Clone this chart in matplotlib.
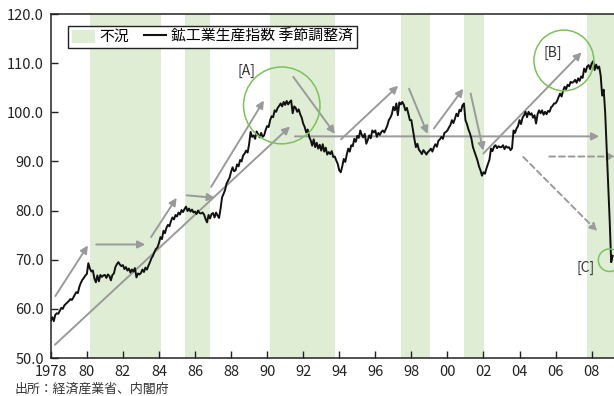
import matplotlib
matplotlib.use("Agg")
import matplotlib.pyplot as plt
import matplotlib.patches as mpatches
from matplotlib.lines import Line2D
import numpy as np

plt.rcParams['font.family'] = ['Noto Sans CJK JP', 'DejaVu Sans']

# 鉱工業生産指数（季節調整済）月次 1978年1月〜2009年3月
iip_1978_84 = [
    57.6, 58.3, 57.5, 58.8, 59.1, 59.0, 59.6, 60.2, 60.0, 60.7, 61.0, 61.3,  # 1978
    61.6, 62.0, 61.8, 62.3, 62.9, 63.4, 63.2, 64.5, 65.3, 65.9, 66.3, 66.8,  # 1979
    67.1, 69.3, 68.2, 67.6, 67.8, 66.2, 65.4, 66.8, 65.6, 66.9, 66.5, 66.8,  # 1980
    66.9, 66.3, 67.0, 66.7, 65.8, 66.9, 67.2, 68.5, 69.1, 69.5, 69.0, 68.7,  # 1981
    68.9, 68.1, 68.5, 67.8, 68.2, 67.4, 68.0, 67.6, 68.3, 66.4, 67.2, 67.0,  # 1982
    67.3, 68.0, 67.5, 68.4, 68.0, 68.8, 69.5, 70.3, 70.8, 71.6, 72.2, 72.5,  # 1983
    73.4, 74.6, 74.2, 75.9, 75.4, 76.5, 77.1, 76.8, 77.9, 78.6, 78.2, 79.1,  # 1984
]
iip_1985_91 = [
    78.8, 79.6, 79.2, 80.1, 79.7, 80.3, 80.8, 79.9, 80.4, 79.8, 80.2, 79.6,  # 1985
    79.8, 79.3, 80.0, 79.5, 79.4, 79.6, 79.2, 78.3, 77.6, 79.1, 78.4, 79.3,  # 1986
    79.5, 78.6, 79.6, 79.0, 78.5, 80.4, 82.7, 83.4, 84.2, 85.5, 86.1, 86.7,  # 1987
    87.9, 88.8, 88.0, 88.2, 89.4, 89.0, 90.3, 90.0, 91.2, 91.6, 92.2, 91.8,  # 1988
    93.5, 96.0, 95.0, 95.3, 94.6, 96.1, 95.5, 94.9, 95.8, 95.0, 95.3, 96.4,  # 1989
    97.2, 97.0, 98.4, 99.2, 99.0, 100.4, 100.1, 100.9, 101.3, 101.8, 101.2, 102.1,  # 1990
    101.5, 102.3, 101.6, 102.1, 102.4, 99.8, 101.2, 100.9, 100.1, 100.6, 99.6, 98.9,  # 1991
]
iip_1992_98 = [
    97.7, 97.0, 95.9, 96.5, 95.0, 94.3, 93.2, 94.5, 92.9, 93.8, 92.6, 93.4,  # 1992
    92.2, 93.5, 92.0, 92.8, 91.4, 91.9, 91.5, 92.1, 90.9, 91.0, 90.2, 89.5,  # 1993
    88.2, 87.8, 89.0, 90.5, 89.9, 91.4, 92.6, 92.0, 93.3, 93.1, 94.6, 94.0,  # 1994
    95.2, 94.8, 96.3, 95.4, 94.9, 95.6, 93.6, 94.4, 95.3, 94.7, 96.3, 95.9,  # 1995
    96.3, 95.0, 95.8, 95.4, 96.0, 96.3, 95.9, 96.6, 97.3, 98.4, 98.9, 99.6,  # 1996
    101.1, 100.4, 101.8, 99.4, 102.0, 101.6, 102.1, 101.5, 100.4, 100.9, 99.7, 98.4,  # 1997
    98.4, 96.5, 94.6, 92.9, 93.6, 92.4, 92.0, 91.5, 92.3, 91.9, 91.4, 91.9,  # 1998
]
iip_1999_05 = [
    92.2, 92.6, 92.0, 92.9, 93.5, 93.0, 94.2, 94.5, 95.0, 94.6, 95.8, 96.0,  # 1999
    96.3, 96.9, 97.4, 98.4, 97.8, 98.7, 99.7, 99.2, 100.5, 100.2, 101.4, 101.8,  # 2000
    98.4, 97.6, 96.5, 95.7, 94.6, 92.9, 92.0, 91.1, 90.2, 89.0, 88.2, 87.1,  # 2001
    87.8, 87.5, 88.6, 89.5, 90.4, 92.6, 92.1, 93.0, 93.3, 92.7, 93.1, 92.9,  # 2002
    92.9, 93.3, 92.5, 93.1, 92.8, 92.9, 92.3, 92.7, 96.3, 95.8, 96.7, 97.2,  # 2003
    98.4, 97.6, 98.9, 99.4, 100.1, 99.0, 100.1, 99.5, 99.8, 98.9, 99.4, 97.7,  # 2004
    99.6, 100.4, 99.8, 100.4, 99.5, 100.1, 99.6, 100.3, 100.1, 101.0, 101.3, 101.8,  # 2005
]
iip_2006_09 = [
    101.8, 102.3, 103.1, 103.8, 103.2, 104.4, 105.2, 104.7, 105.6, 105.3, 106.2, 106.0,  # 2006
    106.2, 106.6, 106.0, 106.9, 106.4, 107.3, 107.0, 108.9, 108.2, 109.3, 109.6, 108.8,  # 2007
    109.9, 110.4, 108.6, 109.7, 108.9, 109.3, 107.5, 103.4, 104.6, 100.0, 92.8, 85.4,  # 2008
    78.0, 69.5, 70.8,  # 2009
]

# 景気後退期（不況）
rec_start = [1980.17, 1985.44, 1990.16, 1997.42, 2000.92, 2007.76]
rec_end = [1984.10, 1986.83, 1993.76, 1999.03, 2002.01, 2010.00]

xticks = [1978, 1980, 1982, 1984, 1986, 1988, 1990, 1992, 1994, 1996,
          1998, 2000, 2002, 2004, 2006, 2008]
xlabels = ["1978", "80", "82", "84", "86", "88", "90", "92", "94", "96",
           "98", "00", "02", "04", "06", "08"]
yticks = [50, 60, 70, 80, 90, 100, 110, 120]

GREEN = "#dfedd4"
CIRCLE = "#7cc25a"
GRAY = "#9a9a9a"

iip = np.array(iip_1978_84 + iip_1985_91 + iip_1992_98 + iip_1999_05 + iip_2006_09)
months = 1978 + np.arange(len(iip)) / 12.0

fig = plt.figure(figsize=(6.14, 3.96), dpi=100)
ax = fig.add_axes([50.8 / 614, 38 / 396, 563.2 / 614, 344 / 396])

for s, e in zip(rec_start, rec_end):
    ax.axvspan(s, e, color=GREEN, lw=0, zorder=0)

ax.plot(months, iip, color="#111111", lw=1.4, zorder=4)

ax.set_xlim(1978, 2009.24)
ax.set_ylim(50, 120)
ax.set_xticks(xticks)
ax.set_xticklabels(xlabels)
ax.set_yticks(yticks)
ax.set_yticklabels(["%.1f" % v for v in yticks])
ax.tick_params(direction="in", length=5, width=1, colors="#222222",
               labelsize=10.5, pad=5)
ax.tick_params(axis="y", pad=5)
ax.spines["right"].set_visible(False)
for s in ["left", "bottom", "top"]:
    ax.spines[s].set_linewidth(1.1)
    ax.spines[s].set_color("#222222")

# トレンドの矢印
def arrow(x0, y0, x1, y1, ls="-"):
    ax.annotate("", xy=(x1, y1), xytext=(x0, y0),
                arrowprops=dict(arrowstyle="-|>", color=GRAY, lw=1.4,
                                linestyle=ls, mutation_scale=11,
                                shrinkA=0, shrinkB=0),
                zorder=3, annotation_clip=False)

arrow(1978.25, 62.6, 1980.06, 72.9)
arrow(1980.52, 73.1, 1983.24, 73.1)
arrow(1983.56, 74.6, 1984.98, 82.6)
arrow(1985.54, 83.1, 1987.10, 82.6)
arrow(1986.89, 84.8, 1989.82, 102.4)
arrow(1978.23, 52.7, 1991.27, 97.1)
arrow(1991.45, 107.2, 1993.76, 95.6)
arrow(1991.54, 95.1, 2008.42, 95.1)
arrow(1994.10, 94.5, 1997.27, 105.4)
arrow(1997.87, 104.8, 1998.90, 95.6)
arrow(1999.25, 96.7, 2000.88, 104.8)
arrow(2001.29, 103.8, 2001.99, 92.2)
arrow(2001.99, 91.6, 2007.44, 112.2)
arrow(2005.65, 91.0, 2009.30, 91.0, ls=(0, (3, 2)))
arrow(2004.21, 90.9, 2008.31, 75.8, ls=(0, (3, 2)))

# 注目する局面
for cx, cy, rx, ry in [(1990.81, 101.4, 2.12, 7.82),
                       (2006.46, 110.55, 1.66, 6.18),
                       (2008.99, 69.9, 0.62, 2.29)]:
    ax.add_patch(mpatches.Ellipse((cx, cy), 2 * rx, 2 * ry, fill=False,
                                  edgecolor=CIRCLE, lw=1.1, zorder=5))

ax.text(1988.87, 108.4, "[A]", fontsize=10, color="#333333", ha="center", va="center")
ax.text(2005.87, 112.1, "[B]", fontsize=10, color="#333333", ha="center", va="center")
ax.text(2007.68, 68.4, "[C]", fontsize=10, color="#333333", ha="center", va="center")

handles = [mpatches.Patch(color=GREEN, label="不況"),
           Line2D([], [], color="#111111", lw=1.5, label="鉱工業生産指数 季節調整済")]
leg = ax.legend(handles=handles, ncol=2, loc="upper left",
                bbox_to_anchor=(68 / 614, 1 - 25.7 / 396),
                bbox_transform=fig.transFigure, fontsize=10.7,
                frameon=True, fancybox=False, borderpad=0.25,
                handlelength=1.5, handleheight=0.9, handletextpad=0.35,
                columnspacing=1.0, borderaxespad=0)
leg.get_frame().set_edgecolor("#222222")
leg.get_frame().set_linewidth(1.0)
leg.get_frame().set_alpha(1)
leg.set_zorder(6)

fig.text(15 / 614, 1 - 389 / 396, "出所：経済産業省、内閣府", fontsize=9.3,
         color="#333333", ha="left", va="center")

fig.savefig("out.png", dpi=100)
